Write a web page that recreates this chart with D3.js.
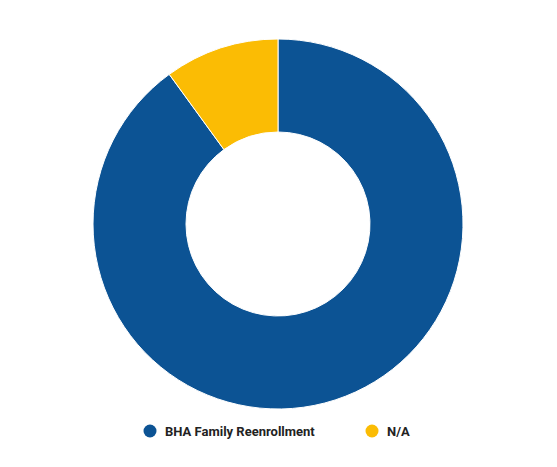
<!DOCTYPE html>
<html>
<head>
<meta charset="utf-8">
<script src="https://cdn.jsdelivr.net/npm/d3@7"></script>
<style>
  body { margin: 0; background: #fff; }
</style>
</head>
<body>
<div id="chart" style="width:557px;height:467px;"></div>
<script>
const categories = ["BHA Family Reenrollment", "N/A"];
const values = [90, 10];
const colors = ["#0c5394", "#fbbc04"];

const width = 557, height = 467;
const cx = 278, cy = 224;
const outer = 185, inner = 92;

const svg = d3.select("#chart").append("svg")
    .attr("width", width)
    .attr("height", height);

const data = categories.map((c, i) => ({ name: c, value: values[i] }));

const pie = d3.pie().sort(null).value(d => d.value);
const arc = d3.arc().innerRadius(inner).outerRadius(outer);
const color = d3.scaleOrdinal().domain(categories).range(colors);

svg.append("g")
    .attr("transform", `translate(${cx},${cy})`)
    .selectAll("path")
    .data(pie(data))
    .join("path")
    .attr("d", arc)
    .attr("fill", d => color(d.data.name))
    .attr("stroke", "#fff")
    .attr("stroke-width", 1);

// Legend
const legend = svg.append("g").attr("transform", "translate(0,431)");
const legendX = [150, 372];
categories.forEach((c, i) => {
    const lg = legend.append("g").attr("transform", `translate(${legendX[i]},0)`);
    lg.append("circle").attr("r", 6.5).attr("fill", color(c));
    lg.append("text").attr("x", 15).attr("y", 4.5).text(c)
        .style("font-family", "Roboto, Arial, sans-serif")
        .style("font-weight", "bold")
        .style("font-size", "13px")
        .style("fill", "#222");
});
</script>
</body>
</html>
